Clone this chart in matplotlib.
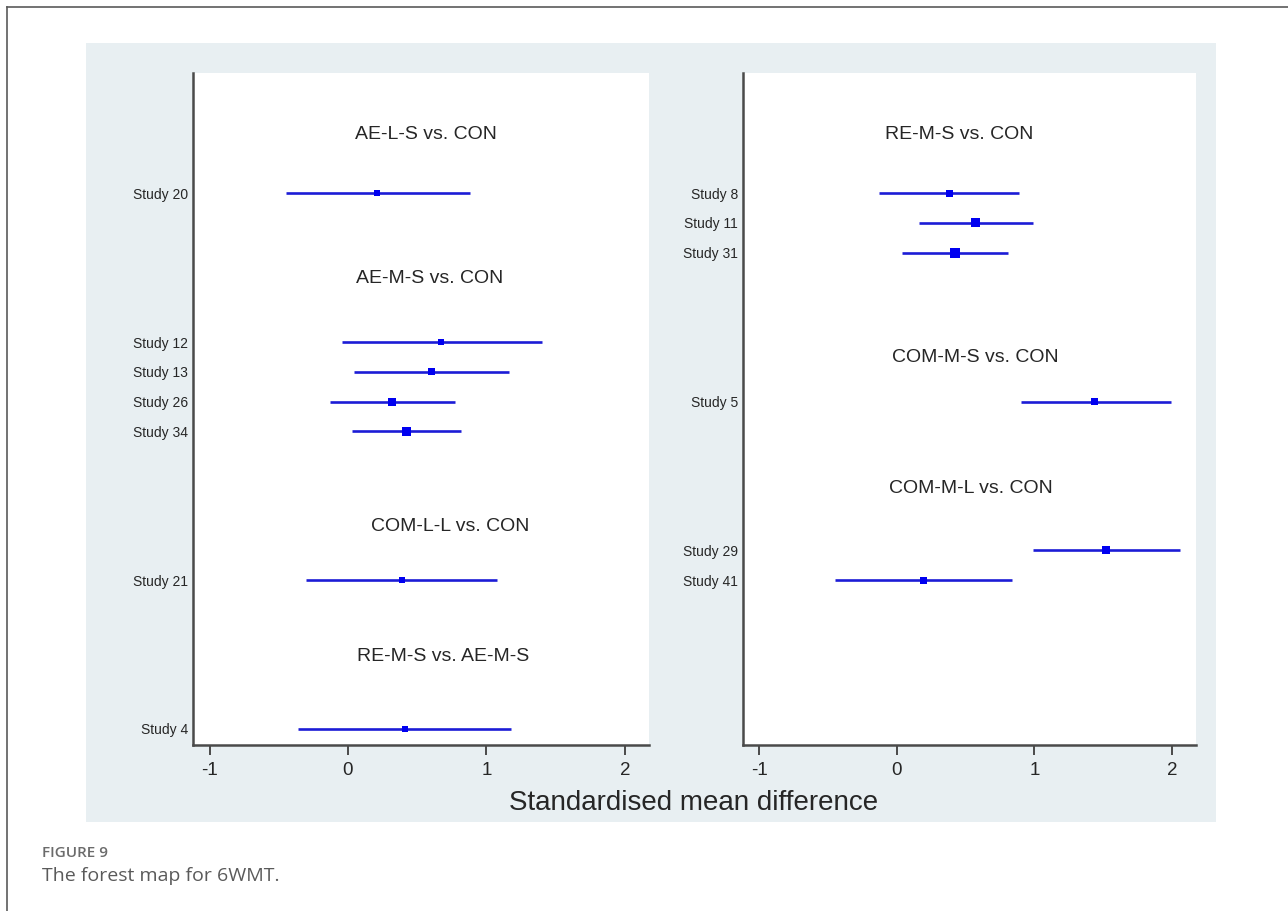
import matplotlib
matplotlib.use('Agg')
import matplotlib.pyplot as plt
from matplotlib.patches import Rectangle
from matplotlib.lines import Line2D

plt.rcParams['font.family'] = ['Liberation Sans', 'DejaVu Sans']

# left panel: study estimates (SMD with 95% CI)
left_studies = ['Study 20', 'Study 12', 'Study 13', 'Study 26', 'Study 34', 'Study 21', 'Study 4']
left_smd = [0.21, 0.67, 0.60, 0.32, 0.42, 0.39, 0.41]
left_lo = [-0.45, -0.04, 0.04, -0.13, 0.03, -0.30, -0.36]
left_hi = [0.88, 1.40, 1.16, 0.77, 0.82, 1.08, 1.18]
left_rows = [4, 9, 10, 11, 12, 17, 22]
left_box = [6, 6, 7, 8, 9, 6, 6]
left_groups = ['AE-L-S vs. CON', 'AE-M-S vs. CON', 'COM-L-L vs. CON', 'RE-M-S vs. AE-M-S']
left_group_rows = [2.02, 6.85, 15.2, 19.57]
left_group_x = [0.56, 0.59, 0.74, 0.69]

# right panel
right_studies = ['Study 8', 'Study 11', 'Study 31', 'Study 5', 'Study 29', 'Study 41']
right_smd = [0.38, 0.57, 0.42, 1.44, 1.52, 0.19]
right_lo = [-0.13, 0.16, 0.04, 0.90, 0.99, -0.45]
right_hi = [0.89, 0.99, 0.81, 1.99, 2.06, 0.84]
right_rows = [4, 5, 6, 11, 16, 17]
right_box = [7, 9, 10, 7, 8, 7]
right_groups = ['RE-M-S vs. CON', 'COM-M-S vs. CON', 'COM-M-L vs. CON']
right_group_rows = [2.04, 9.52, 13.93]
right_group_x = [0.45, 0.57, 0.54]

xticks = [-1, 0, 1, 2]

W, H = 1288, 911
fig = plt.figure(figsize=(W / 100, H / 100), dpi=100, facecolor='white')


def fx(px):
    return px / W


def fy(py):
    return 1 - py / H


# light graph region behind both panels
fig.patches.append(Rectangle((fx(86), fy(822)), fx(1216) - fx(86), fy(43) - fy(822),
                             transform=fig.transFigure, facecolor='#e8eff2',
                             edgecolor='none', zorder=-5))
# frame lines
fig.add_artist(Line2D([fx(7), 1], [fy(7), fy(7)], transform=fig.transFigure,
                      color='#5a5a5a', lw=1.2))
fig.add_artist(Line2D([fx(7), fx(7)], [0, fy(7)], transform=fig.transFigure,
                      color='#5a5a5a', lw=1.2))

line_col = '#1c1cd6'
box_col = '#0000f0'
spine_col = '#4a4a4a'


def forest(ax, studies, smd, lo, hi, rows, box, groups, grows, gx):
    ax.set_facecolor('white')
    ax.hlines(rows, lo, hi, color=line_col, lw=1.9, zorder=2)
    ax.scatter(smd, rows, marker='s', s=[(b * 0.72) ** 2 for b in box],
               color=box_col, linewidths=0, zorder=3)
    for g, r, x in zip(groups, grows, gx):
        ax.text(x, r, g, ha='center', va='center', fontsize=14, color='#262626')
    ax.set_xlim(-1.12, 2.175)
    ax.set_ylim(22.54, -0.04)
    ax.set_yticks(rows)
    ax.set_yticklabels(studies, fontsize=10, color='#262626')
    ax.tick_params(axis='y', length=0, pad=3.6)
    ax.set_xticks(xticks)
    ax.set_xticklabels([str(t) for t in xticks], fontsize=13.5, color='#262626')
    ax.tick_params(axis='x', length=7, width=1.4, color=spine_col, pad=5)
    for s in ['top', 'right']:
        ax.spines[s].set_visible(False)
    for s in ['left', 'bottom']:
        ax.spines[s].set_color(spine_col)
        ax.spines[s].set_linewidth(1.8)


ax1 = fig.add_axes([fx(193), fy(745), fx(649) - fx(193), fy(73) - fy(745)])
ax2 = fig.add_axes([fx(743), fy(745), fx(1196) - fx(743), fy(73) - fy(745)])

forest(ax1, left_studies, left_smd, left_lo, left_hi, left_rows, left_box,
       left_groups, left_group_rows, left_group_x)
forest(ax2, right_studies, right_smd, right_lo, right_hi, right_rows, right_box,
       right_groups, right_group_rows, right_group_x)

fig.text(fx(694), fy(803), 'Standardised mean difference', ha='center', va='center',
         fontsize=20, color='#262626')

# caption
fig.text(fx(42), fy(853), 'FIGURE 9', ha='left', va='center', fontsize=11,
         family='Open Sans', weight='semibold', color='#6b6b6b')
fig.text(fx(42), fy(876), 'The forest map for 6WMT.', ha='left', va='center', fontsize=14,
         family='Open Sans', color='#5a5a5a')

fig.savefig('out.png', dpi=100, facecolor='white')
